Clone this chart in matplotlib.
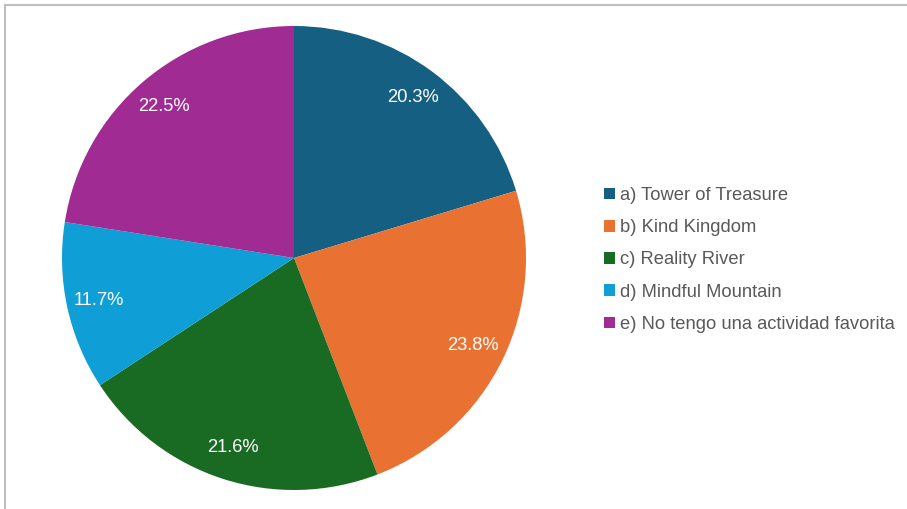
import matplotlib.pyplot as plt
from matplotlib.lines import Line2D

plt.rcParams['font.family'] = ['Liberation Sans', 'DejaVu Sans']

labels = ["a) Tower of Treasure", "b) Kind Kingdom", "c) Reality River",
          "d) Mindful Mountain", "e) No tengo una actividad favorita"]
values = [20.3, 23.8, 21.6, 11.7, 22.5]
colors = ["#156082", "#E97132", "#196B24", "#0F9ED5", "#A02B93"]

W, H = 907, 509
fig = plt.figure(figsize=(W / 100, H / 100), dpi=100)

# pie axes: centre (294, 258) px, radius 232 px
cx, cy, r = 294, 258, 232
ax = fig.add_axes([(cx - r) / W, (H - cy - r) / H, 2 * r / W, 2 * r / H])
wedges, _, autotexts = ax.pie(values, colors=colors, startangle=90, counterclock=False,
                              autopct=lambda p: f"{p:.1f}%", pctdistance=0.86,
                              wedgeprops=dict(linewidth=0))
for t in autotexts:
    t.set_color("white")
    t.set_fontsize(13.2)
ax.set_xlim(-1, 1)
ax.set_ylim(-1, 1)
ax.set_aspect("equal")
ax.axis("off")

leg = fig.legend(wedges, labels, loc="center left",
                 bbox_to_anchor=(604 / W, 1 - 260 / H), frameon=False,
                 fontsize=13.2, handlelength=0.6, handleheight=0.6,
                 handletextpad=0.25, labelspacing=0.83, borderpad=0, borderaxespad=0)
for t in leg.get_texts():
    t.set_color("#595959")

# thin grey frame on top and left
fig.add_artist(Line2D([4.5 / W, 1], [1 - 4.5 / H, 1 - 4.5 / H], color="#bfbfbf", lw=1.5))
fig.add_artist(Line2D([4.5 / W, 4.5 / W], [0, 1 - 4.5 / H], color="#bfbfbf", lw=1.5))

fig.savefig("out.png", dpi=100)
